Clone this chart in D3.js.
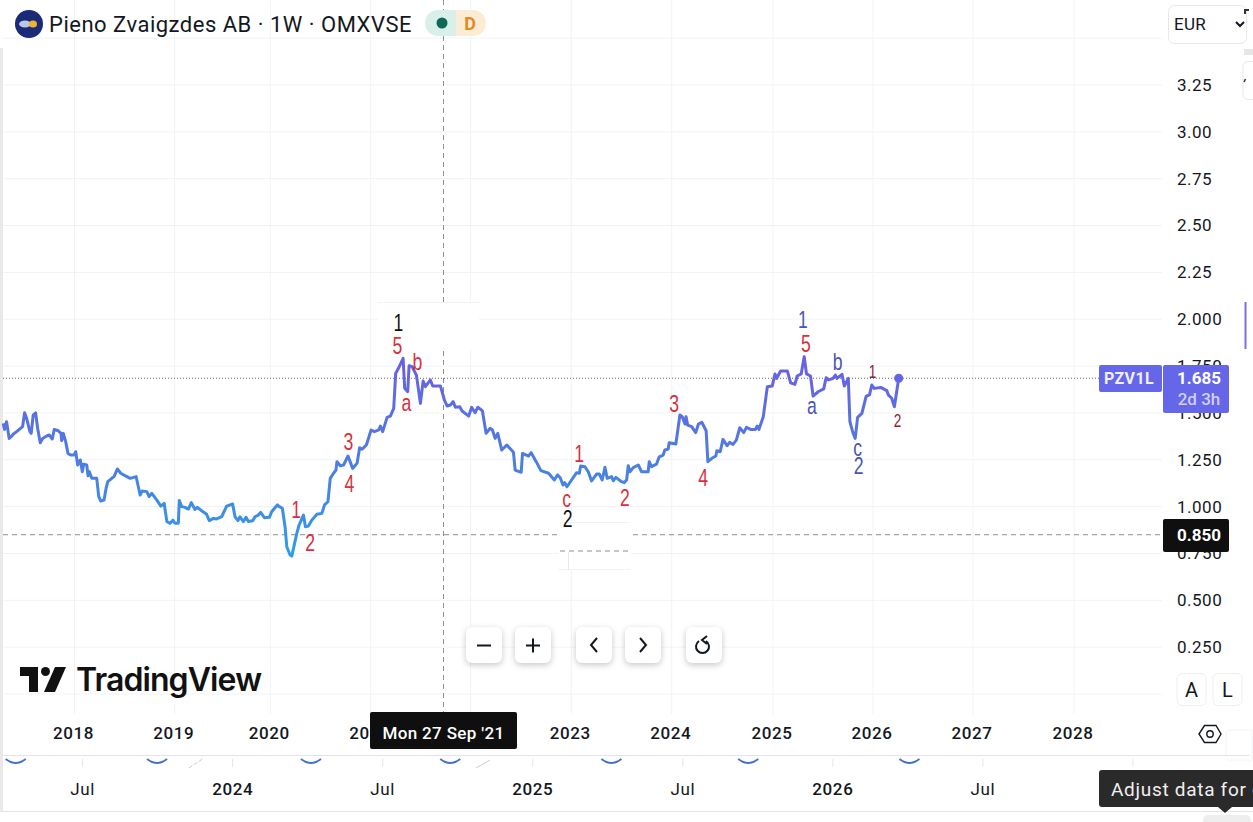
<!DOCTYPE html>
<html>
<head>
<meta charset="utf-8">
<script src="https://cdn.jsdelivr.net/npm/d3@7"></script>
<style>
  html, body { margin: 0; background: #fff; overflow: hidden; }
  text { font-family: Roboto, "Noto Sans", sans-serif; fill: #131722; }
  .wave { font-family: "Liberation Sans", sans-serif; text-anchor: middle; dominant-baseline: central; }
  .btn { fill: #fff; filter: drop-shadow(0 2px 3px rgba(0,0,0,.22)); }
  .icon { fill: none; stroke: #131722; stroke-width: 2; }
</style>
</head>
<body>
<div id="chart"></div>
<script>
// weekly close: decimal year / price in EUR
const closeYears = [
  2017.288,2017.302,2017.322,2017.348,2017.368,2017.388,2017.422,2017.482,2017.502,2017.522,2017.555,2017.568,2017.588,2017.612,2017.632,2017.658,2017.682,2017.722,2017.748,2017.778,
  2017.798,2017.838,2017.865,2017.872,2017.888,2017.912,2017.935,2017.962,2017.995,2018.012,2018.032,2018.058,2018.078,2018.092,2018.122,2018.135,2018.148,2018.172,2018.222,2018.242,
  2018.262,2018.295,2018.315,2018.332,2018.372,2018.395,2018.428,2018.462,2018.505,2018.555,2018.615,2018.655,2018.675,2018.722,2018.745,2018.772,2018.822,2018.862,2018.895,2018.922,
  2018.955,2018.982,2019.003,2019.038,2019.048,2019.073,2019.108,2019.143,2019.174,2019.212,2019.237,2019.282,2019.334,2019.362,2019.404,2019.439,2019.491,2019.544,2019.606,2019.631,
  2019.662,2019.683,2019.718,2019.746,2019.770,2019.816,2019.840,2019.875,2019.899,2019.938,2019.990,2020.014,2020.070,2020.090,2020.120,2020.147,2020.164,2020.197,2020.214,2020.264,
  2020.287,2020.330,2020.350,2020.380,2020.414,2020.464,2020.514,2020.540,2020.574,2020.597,2020.630,2020.654,2020.664,2020.697,2020.730,2020.774,2020.820,2020.864,2020.890,2020.914,
  2020.957,2021.004,2021.037,2021.080,2021.097,2021.120,2021.164,2021.197,2021.230,2021.250,2021.280,2021.324,2021.340,2021.370,2021.384,2021.414,2021.457,2021.497,2021.524,2021.547,
  2021.597,2021.620,2021.697,2021.737,2021.764,2021.797,2021.824,2021.847,2021.890,2021.914,2021.980,2022.010,2022.043,2022.070,2022.116,2022.153,2022.193,2022.216,2022.243,2022.269,
  2022.309,2022.359,2022.425,2022.442,2022.502,2022.515,2022.575,2022.601,2022.651,2022.698,2022.774,2022.831,2022.864,2022.890,2022.917,2022.934,2022.957,2023.003,2023.053,2023.080,
  2023.093,2023.136,2023.169,2023.202,2023.252,2023.279,2023.308,2023.335,2023.358,2023.401,2023.418,2023.444,2023.501,2023.527,2023.551,2023.567,2023.584,2023.617,2023.667,2023.700,
  2023.766,2023.776,2023.799,2023.849,2023.876,2023.915,2023.932,2023.965,2023.975,2024.041,2024.081,2024.104,2024.131,2024.141,2024.158,2024.197,2024.237,2024.264,2024.297,2024.340,
  2024.357,2024.396,2024.436,2024.446,2024.479,2024.506,2024.546,2024.572,2024.605,2024.638,2024.672,2024.711,2024.738,2024.778,2024.827,2024.844,2024.861,2024.904,2024.944,2024.993,
  2025.020,2025.036,2025.076,2025.143,2025.176,2025.219,2025.242,2025.282,2025.312,2025.335,2025.375,2025.401,2025.451,2025.507,2025.531,2025.557,2025.600,2025.624,2025.640,2025.690,
  2025.713,2025.753,2025.769,2025.796,2025.822,2025.846,2025.889,2025.932,2025.965,2025.988,2026.012,2026.078,2026.138,2026.154,2026.187,2026.214,2026.257
];
const closePrices = [
  1.444,1.412,1.453,1.364,1.373,1.386,1.400,1.427,1.501,1.471,1.400,1.391,1.489,1.501,1.418,1.341,1.364,1.377,1.382,1.361,
  1.412,1.405,1.391,1.352,1.391,1.347,1.284,1.275,1.275,1.293,1.222,1.249,1.186,1.226,1.222,1.165,1.186,1.151,1.151,1.053,
  1.030,1.035,1.097,1.133,1.151,1.160,1.201,1.178,1.165,1.151,1.160,1.062,1.083,1.080,1.053,1.071,1.035,1.003,1.017,0.920,
  0.911,0.928,0.911,0.911,1.032,1.000,0.996,0.987,1.021,0.985,0.996,0.978,0.959,0.925,0.937,0.934,0.946,1.003,1.014,0.946,
  0.925,0.946,0.920,0.943,0.921,0.925,0.946,0.955,0.969,0.941,0.943,0.973,1.009,1.000,0.991,0.893,0.786,0.742,0.736,0.857,
  0.902,0.955,0.893,0.896,0.928,0.959,0.964,1.009,1.026,1.151,1.178,1.195,1.240,1.218,1.222,1.270,1.204,1.231,1.314,1.306,
  1.329,1.409,1.400,1.409,1.430,1.400,1.476,1.483,1.524,1.711,1.741,1.791,1.631,1.613,1.752,1.747,1.702,1.551,1.670,1.640,
  1.676,1.644,1.644,1.569,1.537,1.542,1.560,1.530,1.533,1.510,1.483,1.530,1.501,1.530,1.512,1.391,1.418,1.409,1.364,1.391,
  1.302,1.329,1.290,1.195,1.183,1.284,1.270,1.288,1.240,1.192,1.178,1.142,1.169,1.154,1.115,1.128,1.106,1.142,1.181,1.178,
  1.217,1.213,1.186,1.137,1.174,1.174,1.142,1.210,1.151,1.160,1.138,1.156,1.133,1.128,1.142,1.218,1.186,1.208,1.222,1.186,
  1.186,1.240,1.213,1.227,1.266,1.275,1.302,1.307,1.341,1.334,1.489,1.480,1.441,1.480,1.435,1.427,1.395,1.441,1.450,1.405,
  1.240,1.258,1.270,1.298,1.293,1.359,1.325,1.343,1.332,1.355,1.421,1.395,1.423,1.412,1.412,1.430,1.412,1.480,1.640,1.644,
  1.708,1.684,1.724,1.724,1.661,1.652,1.697,1.708,1.800,1.708,1.697,1.590,1.613,1.628,1.688,1.676,1.684,1.702,1.684,1.706,
  1.644,1.684,1.453,1.400,1.364,1.476,1.498,1.590,1.596,1.649,1.631,1.636,1.619,1.596,1.578,1.533,1.685
];

// elliott wave counts drawn on the chart
const waveLabels = ["1","2","3","4","5","a","b","1","c","2","1","2","3","4","1","5","a","b","c","2","1","2"];
const waveYears  = [2020.257,2020.397,2020.777,2020.787,2021.267,2021.357,2021.467,2021.277,2022.953,2022.963,2023.077,2023.535,2024.023,2024.311,2025.299,2025.329,2025.388,2025.647,2025.846,2025.856,2025.995,2026.244];
const wavePrices = [0.987,0.811,1.350,1.121,1.862,1.558,1.772,1.985,1.046,0.939,1.281,1.051,1.553,1.158,2.001,1.873,1.542,1.777,1.313,1.217,1.724,1.462];
const waveDegree = ["minor","minor","minor","minor","minor","minor","minor","major","minor","major","minor","minor","minor","minor","inter","minor","inter","inter","inter","inter","minute","minute"];

const priceTicks = [0.25,0.5,0.75,1,1.25,1.5,1.75,2,2.25,2.5,2.75,3,3.25];
const gridPrices = [0,0.25,0.5,0.75,1,1.25,1.5,1.75,2,2.25,2.5,2.75,3,3.25,3.5];
const yearTicks = [2018,2019,2020,2021,2022,2023,2024,2025,2026,2027,2028];
const navigatorTicks = [2023.5,2024,2024.5,2025,2025.5,2026,2026.5,2027];
const navigatorLabels = ["Jul","2024","Jul","2025","Jul","2026","Jul","2027"];
const navigatorDips = [2023.277,2023.748,2024.261,2024.725,2025.262,2025.718,2026.255];
const lastPrice = 1.685, markerPrice = 0.85;

const width = 1253, height = 822;

const svg = d3.select("#chart").append("svg")
    .attr("width", width).attr("height", height)
    .attr("viewBox", [0, 0, width, height])
    .style("display", "block");

// bars are evenly spaced so years are not quite evenly spaced
const x = d3.scaleLinear()
    .domain(yearTicks)
    .range([74.5,174.7,270.3,370.7,470.7,571.3,671.7,773,873,973,1074]);

const y = d3.scaleLinear().domain([0, 3.25]).range([694, 85]);

const xNav = d3.scaleLinear().domain([2023.5, 2027]).range([82.6, 1133]);

const colors = { minor: "#d9303c", major: "#111111", inter: "#4a55b5", minute: "#8c2233" };
const sizes = { minor: 22, major: 22, inter: 22, minute: 17 };

// line gradient
const grad = svg.append("defs").append("linearGradient")
    .attr("id", "lineGrad")
    .attr("gradientUnits", "userSpaceOnUse")
    .attr("x1", 0).attr("x2", 0)
    .attr("y1", y(1.8)).attr("y2", y(0.74));
grad.append("stop").attr("offset", "0%").attr("stop-color", "#6a5fe2");
grad.append("stop").attr("offset", "55%").attr("stop-color", "#4c7fe0");
grad.append("stop").attr("offset", "100%").attr("stop-color", "#2f9ce8");

// grid
svg.append("g").selectAll("line").data(gridPrices).join("line")
    .attr("x1", 3).attr("x2", 1162)
    .attr("y1", d => y(d)).attr("y2", d => y(d))
    .attr("stroke", "#f0f3f5");
svg.append("g").selectAll("line").data(yearTicks).join("line")
    .attr("x1", d => x(d)).attr("x2", d => x(d))
    .attr("y1", 0).attr("y2", 714)
    .attr("stroke", "#f0f3f5");

// crosshair and price lines
svg.append("line").attr("x1", 443.5).attr("x2", 443.5).attr("y1", 0).attr("y2", 714)
    .attr("stroke", "#8a8e98").attr("stroke-dasharray", "5 4");
svg.append("line").attr("x1", 3).attr("x2", 1163).attr("y1", y(markerPrice)).attr("y2", y(markerPrice))
    .attr("stroke", "#8a8e98").attr("stroke-dasharray", "5 4");
svg.append("line").attr("x1", 3).attr("x2", 1100).attr("y1", y(lastPrice)).attr("y2", y(lastPrice))
    .attr("stroke", "#666").attr("stroke-dasharray", "1 2");

// pasted white patches in the screenshot
svg.append("rect").attr("x", 378).attr("y", 303).attr("width", 101).attr("height", 47).attr("fill", "#fff");
svg.append("line").attr("x1", 378).attr("x2", 480).attr("y1", 302.5).attr("y2", 302.5).attr("stroke", "#f0f3f5");
svg.append("rect").attr("x", 558).attr("y", 523).attr("width", 73).attr("height", 47).attr("fill", "#fff");
svg.append("line").attr("x1", 560).attr("x2", 630).attr("y1", 522.5).attr("y2", 522.5).attr("stroke", "#f0f3f5");
svg.append("line").attr("x1", 558).attr("x2", 630).attr("y1", 569.5).attr("y2", 569.5).attr("stroke", "#f0f3f5");
svg.append("line").attr("x1", 560).attr("x2", 630).attr("y1", 551).attr("y2", 551)
    .attr("stroke", "#8a8e98").attr("stroke-dasharray", "5 4");
svg.append("line").attr("x1", 568.5).attr("x2", 568.5).attr("y1", 552).attr("y2", 570).attr("stroke", "#e6e8ec");

// left edge strip
svg.append("rect").attr("x", 0).attr("y", 48).attr("width", 3).attr("height", 764).attr("fill", "#e9e9e9");

// price line
const line = d3.line().x(d => x(d[0])).y(d => y(d[1]));
svg.append("path")
    .datum(d3.zip(closeYears, closePrices))
    .attr("d", line)
    .attr("fill", "none")
    .attr("stroke", "url(#lineGrad)")
    .attr("stroke-width", 3)
    .attr("stroke-linejoin", "round");

svg.append("circle")
    .attr("cx", x(closeYears[closeYears.length - 1]))
    .attr("cy", y(lastPrice))
    .attr("r", 4.5)
    .attr("fill", "#6464e6");

// wave labels, the screenshot squeezed them sideways
svg.append("g").selectAll("text").data(waveLabels).join("text")
    .attr("class", "wave")
    .attr("transform", (d, i) => `translate(${x(waveYears[i])},${y(wavePrices[i])}) scale(0.8,1.08)`)
    .attr("font-size", (d, i) => sizes[waveDegree[i]])
    .style("fill", (d, i) => colors[waveDegree[i]])
    .text(d => d);

// right price axis
const yAxis = svg.append("g")
    .attr("transform", "translate(1177,0)")
    .call(d3.axisRight(y).tickValues(priceTicks).tickSize(0).tickPadding(0)
        .tickFormat(d => d >= 2.25 ? d3.format(".2f")(d) : d3.format(".3f")(d)));
yAxis.select(".domain").remove();
yAxis.selectAll("text").attr("font-size", 17).attr("font-family", "Roboto").style("letter-spacing", "0.5px").attr("fill", "#131722");

// bottom time axis
svg.append("rect").attr("x", 3).attr("y", 714).attr("width", 1165).attr("height", 41).attr("fill", "#fff");
const xAxis = svg.append("g")
    .attr("transform", "translate(-1.5,727)")
    .call(d3.axisBottom(x).tickValues(yearTicks).tickSize(0).tickPadding(0).tickFormat(d3.format("d")));
xAxis.select(".domain").remove();
xAxis.selectAll("text").attr("font-size", 17).attr("font-weight", 500).attr("font-family", "Roboto").style("letter-spacing", "0.6px").attr("fill", "#131722");

svg.append("line").attr("x1", 3).attr("x2", 1250).attr("y1", 755.5).attr("y2", 755.5).attr("stroke", "#e0e3eb");
svg.append("line").attr("x1", 3).attr("x2", 1253).attr("y1", 811.5).attr("y2", 811.5).attr("stroke", "#e0e3eb");

// crosshair date tag
svg.append("rect").attr("x", 370).attr("y", 712).attr("width", 147).attr("height", 37).attr("rx", 2).attr("fill", "#0f0f0f");
svg.append("text").attr("x", 443.5).attr("y", 739).attr("text-anchor", "middle")
    .attr("font-size", 17).attr("font-weight", 500).style("letter-spacing", "0.35px").style("fill", "#fff").text("Mon 27 Sep '21");

// navigator strip under the axis
svg.append("g").selectAll("line").data(navigatorTicks).join("line")
    .attr("x1", d => xNav(d)).attr("x2", d => xNav(d))
    .attr("y1", 759).attr("y2", 767).attr("stroke", "#e3e5ea");
svg.append("g").selectAll("text").data(navigatorTicks).join("text")
    .attr("x", d => xNav(d)).attr("y", 795)
    .attr("text-anchor", "middle").attr("font-size", 17)
    .attr("font-weight", (d, i) => navigatorLabels[i] === "Jul" ? 400 : 500)
    .style("letter-spacing", "0.6px")
    .text((d, i) => navigatorLabels[i]);
svg.append("g").selectAll("path").data(navigatorDips).join("path")
    .attr("d", d => `M${xNav(d) - 10},759 Q${xNav(d)},767 ${xNav(d) + 10},759`)
    .attr("fill", "none").attr("stroke", "#3f6fd0").attr("stroke-width", 2);
svg.append("path").attr("d", "M189,768 L204,758").attr("stroke", "#c9ccd2").attr("stroke-dasharray", "4 2");
svg.append("path").attr("d", "M476,768 L490,760").attr("stroke", "#c9ccd2");

// price tags
svg.append("rect").attr("x", 1099).attr("y", 365).attr("width", 63).attr("height", 27).attr("rx", 2).attr("fill", "#6566e8");
svg.append("text").attr("x", 1129).attr("y", 384).attr("text-anchor", "middle").attr("font-size", 16).attr("font-weight", 700).style("letter-spacing", "0.4px").style("fill", "#f0f0ff").text("PZV1L");
svg.append("rect").attr("x", 1163).attr("y", 365).attr("width", 66).attr("height", 48).attr("rx", 2).attr("fill", "#6566e8");
svg.append("text").attr("x", 1199).attr("y", 384).attr("text-anchor", "middle").attr("font-size", 17).attr("font-weight", 700).style("fill", "#fff").text(d3.format(".3f")(lastPrice));
svg.append("text").attr("x", 1199).attr("y", 405).attr("text-anchor", "middle").attr("font-size", 17).attr("font-weight", 500).style("fill", "#cfd0fa").text("2d 3h");
svg.append("rect").attr("x", 1163).attr("y", 519).attr("width", 66).attr("height", 33).attr("rx", 2).attr("fill", "#0f0f0f");
svg.append("text").attr("x", 1199).attr("y", 541).attr("text-anchor", "middle").attr("font-size", 17).attr("font-weight", 700).style("fill", "#fff").text(d3.format(".3f")(markerPrice));

// header
svg.append("circle").attr("cx", 29).attr("cy", 24).attr("r", 14).attr("fill", "#1b2a78");
svg.append("ellipse").attr("cx", 25).attr("cy", 24).attr("rx", 6).attr("ry", 3.5).attr("fill", "#b9c6e6");
svg.append("ellipse").attr("cx", 33).attr("cy", 24).attr("rx", 4).attr("ry", 3.5).attr("fill", "#f0b429");
svg.append("text").attr("x", 49).attr("y", 32).attr("font-size", 22).style("letter-spacing", "0.5px").text("Pieno Zvaigzdes AB · 1W · OMXVSE");

svg.append("path").attr("d", "M456,10 H438 a13,13 0 0 0 0,26 H456 Z").attr("fill", "#d9f0ea");
svg.append("path").attr("d", "M456,10 H473 a13,13 0 0 1 0,26 H456 Z").attr("fill", "#fdecd5");
svg.append("circle").attr("cx", 442).attr("cy", 23).attr("r", 5.5).attr("fill", "#0b6b57");
svg.append("text").attr("x", 470).attr("y", 29.5).attr("text-anchor", "middle").attr("font-size", 18).attr("font-weight", 700).style("fill", "#e38a1f").text("D");

// currency box and top right bits
svg.append("rect").attr("x", 1168.5).attr("y", 5.5).attr("width", 78).attr("height", 38).attr("rx", 6).attr("fill", "#fff").attr("stroke", "#e6e8ec");
svg.append("text").attr("x", 1174).attr("y", 30).attr("font-size", 17).style("letter-spacing", "0.3px").text("EUR");
svg.append("path").attr("class", "icon").attr("d", "M1236,22 l4,4 l4,-4");
svg.append("path").attr("d", "M1253,61.5 h-5 a5,5 0 0 0 -5,5 v28 a5,5 0 0 0 5,5 h5").attr("fill", "#fff").attr("stroke", "#e6e8ec");
svg.append("rect").attr("x", 1244).attr("y", 49).attr("width", 9).attr("height", 6).attr("fill", "#e6e6e6");
svg.append("path").attr("d", "M1245,14 V10 h4").attr("fill", "none").attr("stroke", "#333").attr("stroke-width", 2);
svg.append("path").attr("d", "M1244,82 l1.5,-3").attr("fill", "none").attr("stroke", "#333").attr("stroke-width", 1.5);
svg.append("line").attr("x1", 1245.5).attr("x2", 1245.5).attr("y1", 302).attr("y2", 349).attr("stroke", "#7d6fe2").attr("stroke-width", 2);

// tradingview logo
svg.append("path").attr("d", "M20,667 H38 V692 H29 V676 H20 Z").attr("fill", "#111");
svg.append("circle").attr("cx", 45.5).attr("cy", 671.5).attr("r", 4.5).attr("fill", "#111");
svg.append("path").attr("d", "M55,667 H66 L55,692 H44 Z").attr("fill", "#111");
svg.append("text").attr("x", 76).attr("y", 691).attr("font-size", 32)
    .attr("font-weight", 600).style("font-family", "Inter").style("letter-spacing", "-0.9px").style("fill", "#111").text("TradingView");

// zoom and scroll buttons
const buttons = svg.append("g");
for (const bx of [466, 515, 576, 625, 686]) {
    buttons.append("rect").attr("class", "btn").attr("x", bx).attr("y", 627).attr("width", 36).attr("height", 36).attr("rx", 6);
}
svg.append("path").attr("class", "icon").attr("d", "M477,645.5 H491");
svg.append("path").attr("class", "icon").attr("d", "M526,645.5 H540 M533,638.5 V652.5");
svg.append("path").attr("class", "icon").attr("d", "M597,638 L591,645 L597,652");
svg.append("path").attr("class", "icon").attr("d", "M640,638 L646,645 L640,652");
svg.append("path").attr("class", "icon").attr("d", "M699,641 a6.5,6.5 0 1 0 7,0 M707,636 L702,640 L707,644");

// A / L buttons and settings
for (const [bx, t] of [[1177, "A"], [1213, "L"]]) {
    svg.append("rect").attr("x", bx).attr("y", 673.5).attr("width", 29).attr("height", 32).attr("rx", 5).attr("fill", "#fff").attr("stroke", "#eceef1");
    svg.append("text").attr("x", bx + 14.5).attr("y", 696.5).attr("text-anchor", "middle").attr("font-size", 20).text(t);
}
svg.append("path").attr("d", "M1252,730 h-22 a4,4 0 0 0 -4,4 v21 M1252,730 v30 M1226,760 h26").attr("fill", "#fff").attr("stroke", "#f2f3f5");
svg.append("path").attr("d", "M1199,734 L1204.5,725.5 H1216 L1221,734 L1216,742.5 H1204.5 Z").attr("fill", "#fff").attr("stroke", "#131722").attr("stroke-width", 1.4);
svg.append("circle").attr("cx", 1210).attr("cy", 734).attr("r", 3.2).attr("fill", "none").attr("stroke", "#131722").attr("stroke-width", 1.4);

// tooltip cut off by the edge of the shot
svg.append("rect").attr("x", 1203).attr("y", 815).attr("width", 48).attr("height", 10).attr("rx", 5).attr("fill", "#eeeeee");
svg.append("rect").attr("x", 1099).attr("y", 770).attr("width", 160).attr("height", 37).attr("rx", 3).attr("fill", "#2a2a2a");
svg.append("path").attr("d", "M1218,807 L1225,813 L1232,807 Z").attr("fill", "#2a2a2a");
svg.append("text").attr("x", 1111).attr("y", 795.5).attr("font-size", 19).style("letter-spacing", "0.7px").style("fill", "#f0f0f0").text("Adjust data for d");
</script>
</body>
</html>
